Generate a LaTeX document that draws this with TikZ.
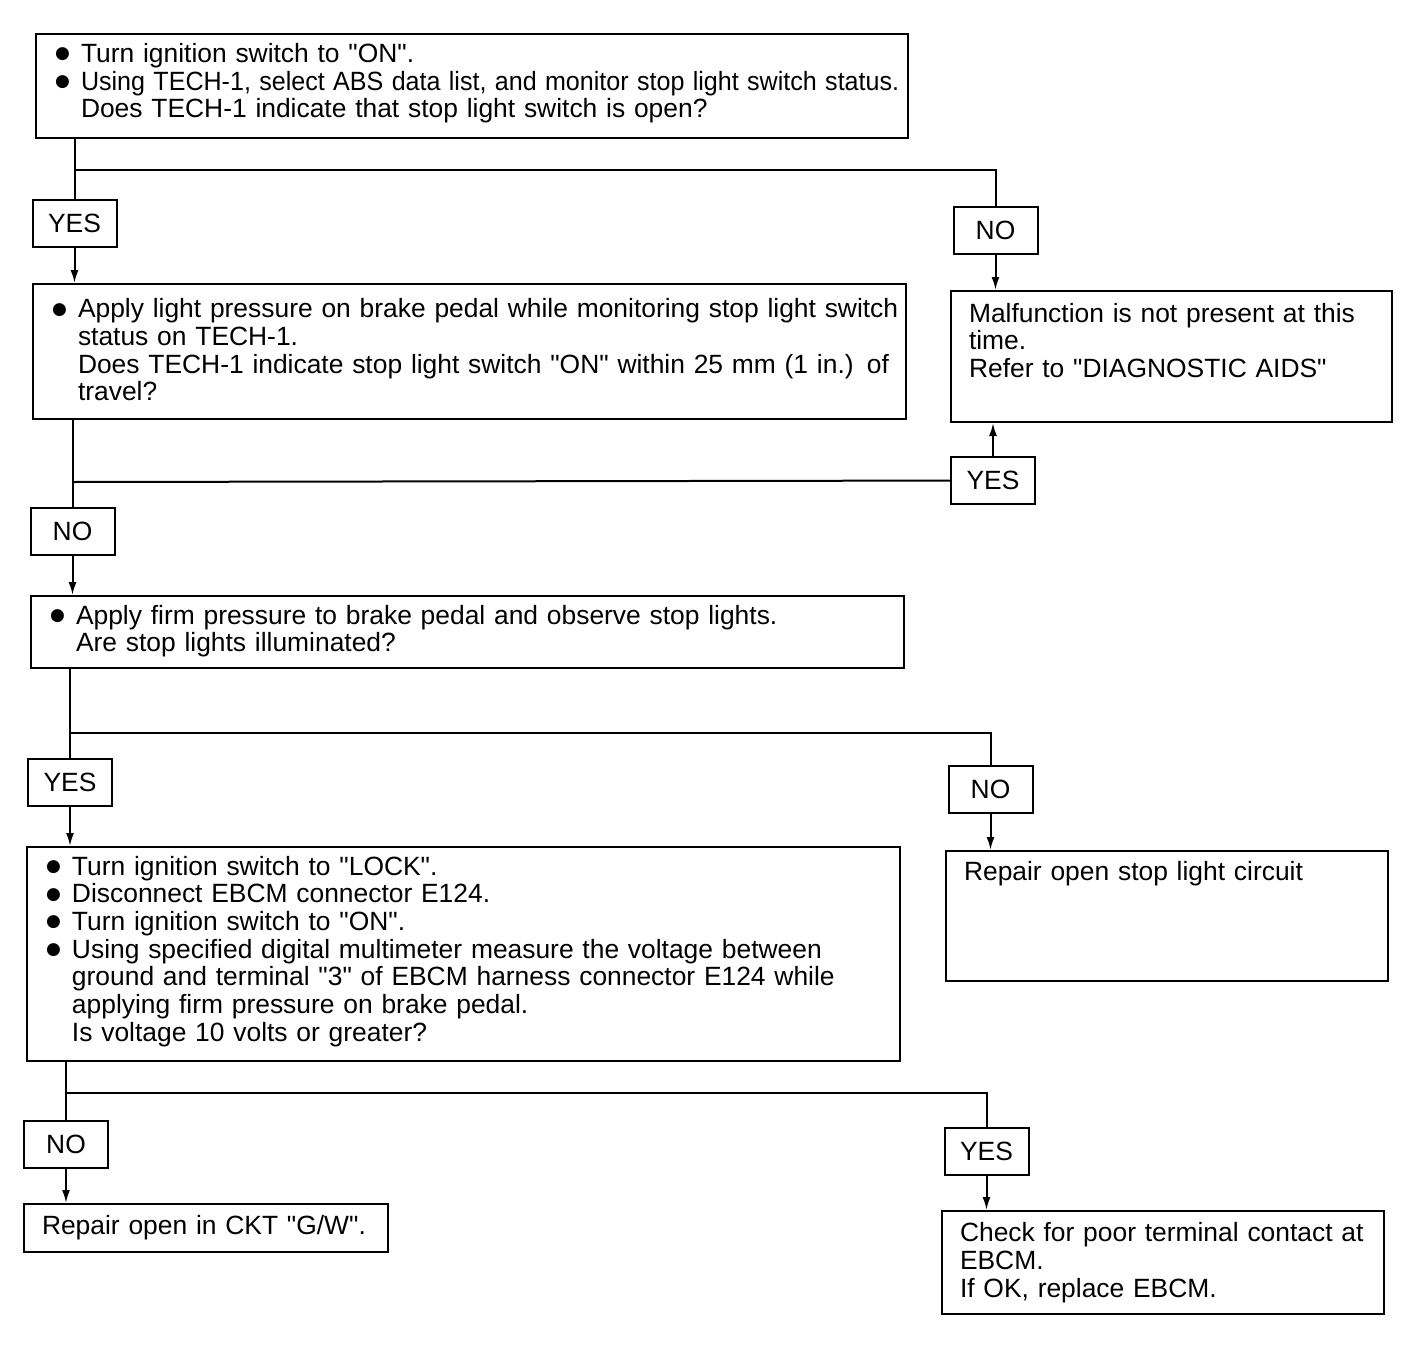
\documentclass[tikz,border=0pt]{standalone}
\usepackage{fontspec}
\newfontfamily\chartfont{Liberation Sans}
\newfontfamily\dotfont{DejaVu Sans}
\usetikzlibrary{arrows.meta, positioning}
\newcommand{\bul}{\par\noindent\llap{\raisebox{3.5pt}{\dotfont\fontsize{17}{17}\selectfont ●}\hspace{11pt}}}
\newcommand{\tail}[1]{\par\vspace{#1}\hrule height 0pt\relax}

\begin{document}
\begin{tikzpicture}[
            x=1pt, y=-1pt,
            font=\chartfont\fontsize{26.4}{27.7}\selectfont,
            line width=2pt,
            qbox/.style={
                draw,
                anchor=north west,
                inner sep=0pt,
                align=left,
                text width=#1,
                execute at begin node={\leftskip=45pt}
            },
            abox/.style={
                draw,
                anchor=north west,
                inner sep=0pt,
                align=left,
                text width=#1,
                execute at begin node={\leftskip=18pt}
            },
            ans/.style={draw, inner sep=0pt, minimum width=84pt, minimum height=47pt},
            arr/.style={-{Latex[length=13pt,width=8pt]}}
        ]
            \useasboundingbox (0,0) rectangle (1408,1346);

            % Questions
            \node[qbox=872pt, minimum height=104pt] (check1) at (35,33) {
                \bul Turn ignition switch to "ON".
                \bul \scalebox{0.95}[1]{Using TECH-1, select ABS data list, and monitor stop light switch status.}\\
                Does TECH-1 indicate that stop light switch is open?
                \tail{14pt}
            };
            \node[qbox=873pt, minimum height=135pt] (check2) at (32,283) {
                \bul Apply light pressure on brake pedal while monitoring stop light switch\\
                status on TECH-1.\\
                Does TECH-1 indicate stop light switch "ON" within 25 mm (1 in.) of\\
                travel?
                \tail{12pt}
            };
            \node[qbox=873pt, minimum height=72pt] (check3) at (30,595) {
                \bul Apply firm pressure to brake pedal and observe stop lights.\\
                Are stop lights illuminated?
                \tail{10pt}
            };
            \node[qbox=873pt, minimum height=214pt] (check4) at (26,846) {
                \bul Turn ignition switch to "LOCK".
                \bul Disconnect EBCM connector E124.
                \bul Turn ignition switch to "ON".
                \bul Using specified digital multimeter measure the voltage between\\
                ground and terminal "3" of EBCM harness connector E124 while\\
                applying firm pressure on brake pedal.\\
                Is voltage 10 volts or greater?
                \tail{14pt}
            };

            % Results
            \node[abox=441pt, minimum height=131pt] (notpresent) at (950,290) {
                Malfunction is not present at this\\
                time.\\
                Refer to "DIAGNOSTIC AIDS"
                \tail{32pt}
            };
            \node[abox=442pt, minimum height=130pt] (repairstop) at (945,850) {
                Repair open stop light circuit
                \tail{84pt}
            };
            \node[abox=364pt, minimum height=48pt] (repairckt) at (23,1203) {
                Repair open in CKT "G/W".
            };
            \node[abox=442pt, minimum height=103pt] (replace) at (941,1210) {
                Check for poor terminal contact at\\
                EBCM.\\
                If OK, replace EBCM.
            };

            % Answers
            \node[ans] (yes1) at (74.5,223.5) {YES};
            \node[ans] (no1) at (995.5,230.5) {NO};
            \node[ans] (yes2) at (993,480.5) {YES};
            \node[ans] (no2) at (72.5,531.5) {NO};
            \node[ans] (yes3) at (70,782) {YES};
            \node[ans] (no3) at (990.5,789) {NO};
            \node[ans] (no4) at (66,1144) {NO};
            \node[ans] (yes4) at (986.5,1151) {YES};

            \coordinate (split1) at (74.5,170);
            \coordinate (split2) at (72.5,482);
            \coordinate (split3) at (70,733);
            \coordinate (split4) at (66,1093);

            % Lines
            \draw (yes1 |- check1.south) -- (yes1);
            \draw (split1) -| (no1);
            \draw[arr] (yes1) -- (yes1 |- check2.north);
            \draw[arr] (no1) -- (no1 |- notpresent.north);

            \draw (no2 |- check2.south) -- (no2);
            \draw (split2) -- (yes2);
            \draw[arr] (yes2) -- (yes2 |- notpresent.south);
            \draw[arr] (no2) -- (no2 |- check3.north);

            \draw (yes3 |- check3.south) -- (yes3);
            \draw (split3) -| (no3);
            \draw[arr] (yes3) -- (yes3 |- check4.north);
            \draw[arr] (no3) -- (no3 |- repairstop.north);

            \draw (no4 |- check4.south) -- (no4);
            \draw (split4) -| (yes4);
            \draw[arr] (no4) -- (no4 |- repairckt.north);
            \draw[arr] (yes4) -- (yes4 |- replace.north);
        \end{tikzpicture}
\end{document}
